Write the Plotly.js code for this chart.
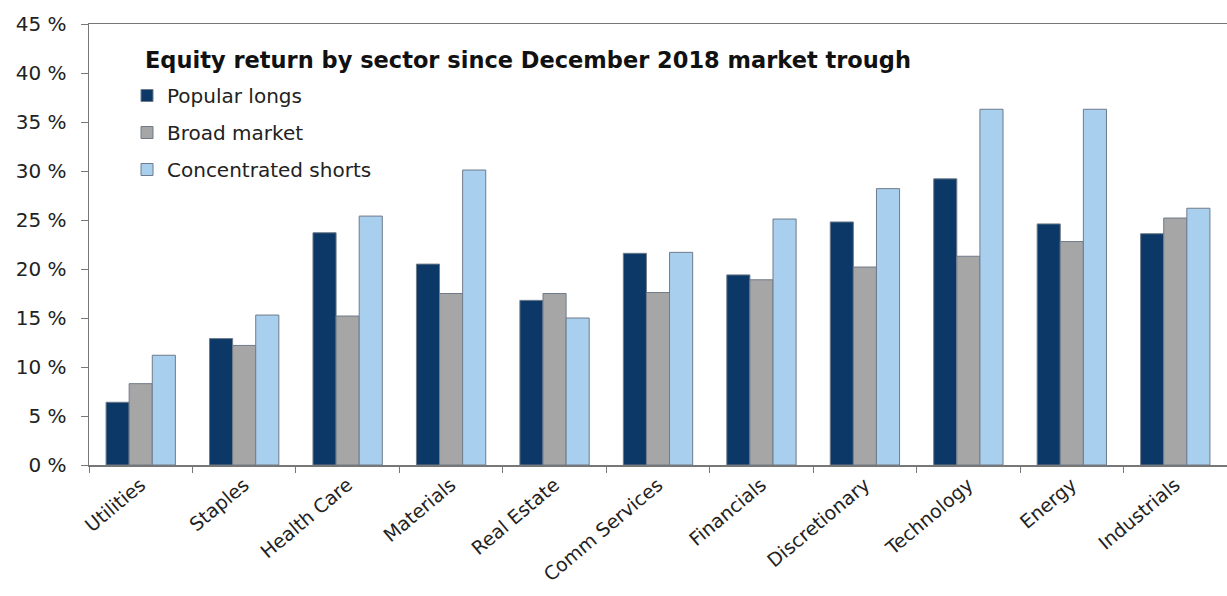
<!DOCTYPE html>
<html>
<head>
<meta charset="utf-8">
<script src="https://cdn.plot.ly/plotly-3.0.1.min.js"></script>
<style>html,body{margin:0;padding:0;background:#fff}#chart{width:1227px;height:596px}</style>
</head>
<body>
<div id="chart"></div>
<script>
const categories = ["Utilities","Staples","Health Care","Materials","Real Estate","Comm Services","Financials","Discretionary","Technology","Energy","Industrials"];
const popularLongs = [6.4, 12.9, 23.7, 20.5, 16.8, 21.6, 19.4, 24.8, 29.2, 24.6, 23.6];
const broadMarket = [8.3, 12.2, 15.2, 17.5, 17.5, 17.6, 18.9, 20.2, 21.3, 22.8, 25.2];
const concentratedShorts = [11.2, 15.3, 25.4, 30.1, 15.0, 21.7, 25.1, 28.2, 36.3, 36.3, 26.2];
const seriesNames = ["Popular longs","Broad market","Concentrated shorts"];
const titleText = "Equity return by sector since December 2018 market trough";

const FONT = "DejaVu Sans, Liberation Sans, Arial, sans-serif";
const colors = ["#0b3866", "#a6a6a6", "#a9cfee"];
const values = [popularLongs, broadMarket, concentratedShorts];
const traces = values.map((v, i) => ({
  type: "bar",
  name: seriesNames[i],
  legendgroup: "g" + i,
  x: categories,
  y: v,
  marker: {color: colors[i], line: {color: "#6f7b8a", width: 1}},
  hoverinfo: "x+y+name"
}));

const layout = {
  width: 1227, height: 596,
  paper_bgcolor: "#fff", plot_bgcolor: "#fff",
  font: {family: FONT, color: "#222", size: 18},
  margin: {l: 89, r: 0, t: 24, b: 131},
  bargap: 0.33, bargroupgap: 0,
  barmode: "group",
  title: {
    text: "<b>" + titleText + "</b>",
    x: (145 - 89) / 1138, xref: "paper", xanchor: "left",
    y: 1 - 60 / 596, yref: "container", yanchor: "middle",
    font: {size: 22.5, color: "#111", family: FONT}
  },
  showlegend: true,
  legend: {
    x: (127 - 89) / 1138, xanchor: "left",
    y: 1 - (76 - 24) / 441, yanchor: "top",
    bgcolor: "rgba(0,0,0,0)",
    font: {size: 20, color: "#222", family: FONT},
    itemwidth: 30,
    traceorder: "grouped",
    tracegroupgap: 8
  },
  xaxis: {
    type: "category",
    range: [-0.5, 10.5],
    automargin: false,
    showline: true, linecolor: "#777", linewidth: 1.5, mirror: true,
    ticks: "outside", tickson: "boundaries", ticklen: 6, tickcolor: "#777",
    tickangle: -40,
    tickfont: {size: 19, color: "#222", family: FONT},
    showgrid: false, zeroline: false
  },
  yaxis: {
    range: [0, 45], dtick: 5, tick0: 0,
    automargin: false,
    ticksuffix: " %",
    showline: true, linecolor: "#777", linewidth: 1.5,
    ticks: "outside", ticklen: 7, tickcolor: "#777",
    ticklabelstandoff: 10,
    tickfont: {size: 20, color: "#222", family: FONT},
    showgrid: false, zeroline: false
  }
};

Plotly.newPlot("chart", traces, layout, {displayModeBar: false, staticPlot: true});
</script>
</body>
</html>
